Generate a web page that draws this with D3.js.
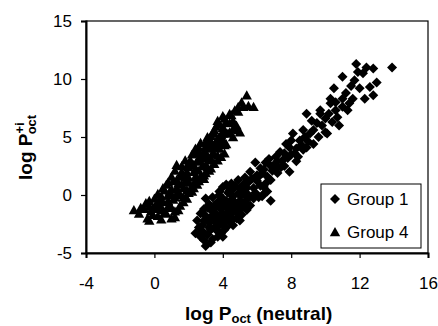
<!DOCTYPE html>
<html>
<head>
<meta charset="utf-8">
<script src="https://cdn.jsdelivr.net/npm/d3@7"></script>
<style>
  body { margin: 0; background: #fff; }
  text { font-family: Arial, "Liberation Sans", sans-serif; }
</style>
</head>
<body>
<svg id="chart" width="438" height="326"></svg>
<script>
// Group 1 (diamonds): [log P_oct neutral, log P+i_oct]
const group1 = [
  [3.0,-4.4],[2.4,-3.3],[2.7,-3.6],[3.1,-3.4],[3.4,-3.8],[3.6,-3.0],[3.9,-3.3],[4.0,-3.6],
  [2.8,-2.6],[3.2,-2.4],[3.5,-2.1],[3.8,-2.6],[4.2,-2.8],[4.4,-2.3],[2.7,-1.6],[3.0,-1.8],
  [3.3,-1.3],[3.6,-1.6],[3.9,-1.2],[4.1,-1.9],[4.5,-1.6],[4.8,-2.0],[5.1,-1.7],[5.4,-1.3],
  [3.2,-0.8],[3.4,-0.2],[3.7,-0.6],[4.0,-0.3],[4.2,-0.9],[4.5,-0.4],[4.8,-0.9],[5.0,-0.5],
  [5.3,-0.8],[5.6,-0.9],[3.8,0.3],[4.0,0.7],[4.3,0.2],[4.6,0.5],[4.9,0.1],[5.2,0.3],
  [5.5,0.0],[5.8,-0.3],[6.1,-0.2],[6.4,0.1],[4.9,1.3],[5.2,0.9],[5.5,1.1],[5.8,0.6],
  [6.0,1.2],[6.2,0.8],[6.8,1.3],[6.8,-0.5],[4.7,-1.2],[3.5,-2.8],[4.1,-2.2],[3.3,-3.0],
  [2.6,-2.8],[4.6,-2.6],[4.4,-0.6],[5.0,-1.3],[3.6,-1.0],[4.3,-1.5],
  [2.9,-3.9],[3.3,-4.1],[3.7,-3.6],[2.5,-2.2],[2.9,-2.2],[3.2,-2.0],[3.7,-2.3],[4.0,-2.5],
  [4.6,-2.1],[5.0,-2.2],[2.9,-1.2],[3.4,-1.8],[3.8,-1.9],[4.3,-1.2],[4.6,-1.0],[5.2,-1.0],
  [5.5,-1.0],[3.0,-0.3],[3.5,-0.9],[3.8,0.0],[4.2,-0.5],[4.6,-0.1],[5.1,0.0],[5.4,-0.4],
  [5.9,0.2],[6.3,-0.1],[4.2,0.9],[4.5,1.0],[4.7,0.8],[5.0,0.6],[5.4,0.6],[5.7,1.4],
  [6.1,1.6],[6.5,1.0],[6.6,0.3],[5.3,1.5],[5.6,2.0],[6.2,2.3],[6.9,2.1],[7.1,3.3],
  [6.5,2.8],[7.4,2.4],[7.8,3.2],[8.2,3.6],[8.6,4.3],[8.0,4.7],[8.8,5.0],[9.0,4.6],
  [8.7,5.6],[9.6,5.0],[9.2,6.4],[10.4,6.3],[10.2,7.0],[10.6,8.0],[11.2,8.8],[11.4,7.9],
  [12.0,9.2],[12.6,9.3],[11.9,10.6],
  [3.6,-2.4],[4.0,-1.6],[4.4,-1.9],[3.9,-0.8],[4.7,-0.6],[5.0,0.2],[5.3,0.0],[4.4,0.4],
  [3.5,-1.5],[2.8,-3.1],[3.2,-2.8],[4.1,-3.0],[6.3,1.9],[6.8,2.5],[7.2,2.9],[7.6,3.6],
  [7.1,2.3],[8.4,3.3],[8.9,4.1],[3.1,-1.1],[4.8,-1.5],
  [5.9,2.8],[6.0,1.7],[6.4,2.2],[6.7,3.1],[6.4,0.7],[7.2,1.9],[7.0,2.6],[7.5,3.0],
  [7.35,3.7],[7.9,2.0],[7.7,4.4],[7.9,4.1],[8.1,5.3],[8.0,3.5],[8.3,4.0],[8.5,4.7],
  [8.7,3.9],[8.3,2.9],[7.6,2.5],[6.6,1.6],
  [8.9,7.0],[9.1,5.3],[9.3,4.4],[9.5,6.2],[9.3,5.6],[9.7,7.3],[9.7,7.0],[10.0,5.4],
  [10.1,5.3],[10.3,7.9],[10.3,8.3],[10.5,9.2],[10.6,7.3],[10.7,6.7],[10.8,6.0],[11.0,8.3],
  [11.0,7.6],[11.0,10.2],[11.3,7.3],[11.6,8.3],[11.7,9.9],[11.8,11.3],[12.3,8.3],[12.8,10.9],
  [12.8,8.6],[13.0,9.7],[13.9,11.0],[11.5,9.4],[12.2,10.5],[10.0,6.6],[9.8,6.0],[12.4,11.0]
];

// Group 4 (triangles)
const group4 = [
  [-1.2,-1.3],[-0.8,-1.1],[-0.4,-2.0],[-0.5,-0.7],[-0.2,-1.4],[0.0,-0.3],[0.2,-1.8],[0.3,-0.9],
  [0.4,-0.1],[0.5,-1.3],[0.7,0.9],[0.7,-1.6],[0.8,-0.5],[0.9,0.3],[1.0,-1.1],[1.1,1.2],
  [1.2,-0.2],[1.3,2.6],[1.3,0.6],[1.4,-1.3],[1.5,1.6],[1.5,0.0],[1.6,2.0],[1.7,-0.6],
  [1.8,1.1],[1.8,3.0],[1.9,0.4],[2.0,2.4],[2.0,1.5],[1.9,-0.3],[2.2,3.5],[2.2,0.8],
  [2.3,2.0],[2.4,1.2],[2.4,4.0],[2.5,2.9],[2.2,0.3],[2.6,3.7],[2.7,1.6],[2.7,4.5],
  [2.8,2.5],[2.9,3.2],[2.5,0.9],[3.0,4.2],[3.0,1.9],[3.1,5.0],[3.2,3.0],[2.9,1.4],
  [3.3,4.6],[3.3,2.3],[3.4,3.6],[3.5,5.3],[3.2,2.1],[3.6,4.1],[3.7,6.4],[3.7,3.0],
  [3.8,5.0],[3.5,2.7],[3.9,4.5],[4.0,5.8],[4.1,3.6],[4.2,4.4],[4.3,5.3],[4.4,6.2],
  [3.9,3.3],[4.6,5.0],[4.7,7.3],[4.8,6.0],[4.9,5.6],[5.0,5.4],[5.2,7.6],[5.4,8.6],
  [5.8,7.6],[4.0,6.8],[4.5,6.9],[3.6,5.9],[1.0,0.0],[0.6,0.4],[0.1,-0.8],[-0.3,-1.0],
  [1.6,0.9],[1.2,-1.9],[0.9,-0.9],[1.4,0.3],
  [-0.3,-2.2],[0.4,-2.1],[1.0,-2.0],[-0.9,-1.6],[-0.1,-1.7],[0.6,-1.5],[1.2,-1.4],
  [-0.6,-1.2],[0.2,-1.2],[0.8,-1.0],[1.5,-0.9],[-0.3,-0.5],[0.5,-0.6],[1.1,-0.4],[1.7,-0.2],
  [0.2,0.1],[0.8,0.0],[1.4,0.1],[2.0,0.2],[0.5,0.6],[1.0,0.5],[1.7,0.6],[2.3,0.6],
  [0.8,1.1],[1.4,1.0],[2.0,1.1],[2.6,1.2],[1.0,1.6],[1.8,1.5],[2.4,1.6],[2.9,1.7],
  [1.2,2.1],[1.9,2.0],[2.6,2.1],[3.1,2.4],[1.6,2.5],[2.3,2.6],[3.0,2.6],
  [2.1,3.0],[2.6,3.2],[3.3,3.1],[3.7,3.4],[2.3,3.6],[2.9,3.7],[3.5,3.5],
  [2.6,4.1],[3.2,4.0],[3.8,4.0],[4.1,4.3],[3.0,4.6],[3.6,4.6],[4.0,4.8],
  [3.3,5.1],[3.9,5.2],[4.4,5.4],[4.6,5.7],[3.5,5.6],[4.1,5.6],
  [3.8,6.1],[4.2,6.3],[4.6,6.4],[4.1,6.6],[4.4,7.0],[4.9,7.2],
  [4.9,7.6],[5.5,7.7],[5.1,8.0],
  [1.3,1.3],[1.6,1.8],[2.1,2.8],[2.4,2.2],[2.8,3.5],[3.1,3.4],[3.4,4.3],[3.7,4.8],
  [4.0,5.3],[0.3,-0.4],[-0.1,-1.1],[1.9,2.5],[2.7,2.9],[3.2,4.9]
];

const xTicks = [-4, 0, 4, 8, 12, 16];
const yTicks = [-5, 0, 5, 10, 15];
const legendItems = ["Group 1", "Group 4"];

const svg = d3.select("#chart");
const margin = { top: 21, right: 10, bottom: 73, left: 86 };
const width = +svg.attr("width") - margin.left - margin.right;
const height = +svg.attr("height") - margin.top - margin.bottom;

const x = d3.scaleLinear().domain([-4, 16]).range([0, width]);
const y = d3.scaleLinear().domain([-5, 15]).range([height, 0]);

const g = svg.append("g").attr("transform", "translate(" + margin.left + "," + margin.top + ")");

// plot frame
g.append("rect")
  .attr("x", 0).attr("y", 0)
  .attr("width", width).attr("height", height)
  .attr("fill", "none").attr("stroke", "#000").attr("stroke-width", 1.2);

const diamond = "M0,-5L5,0L0,5L-5,0Z";
const triangle = "M0,-5L5.2,4.2L-5.2,4.2Z";

g.selectAll(".d1").data(group1).enter().append("path")
  .attr("class", "d1")
  .attr("d", diamond)
  .attr("transform", d => "translate(" + x(d[0]) + "," + y(d[1]) + ")")
  .attr("fill", "#000");

g.selectAll(".d4").data(group4).enter().append("path")
  .attr("class", "d4")
  .attr("d", triangle)
  .attr("transform", d => "translate(" + x(d[0]) + "," + y(d[1]) + ")")
  .attr("fill", "#000");

// axes
const xAxis = g.append("g")
  .attr("transform", "translate(0," + height + ")")
  .call(d3.axisBottom(x).tickValues(xTicks).tickFormat(d => String(d)).tickSize(5).tickPadding(19));
const yAxis = g.append("g")
  .call(d3.axisLeft(y).tickValues(yTicks).tickFormat(d => String(d)).tickSize(5).tickPadding(9));

[xAxis, yAxis].forEach(a => {
  a.select(".domain").attr("stroke", "#000").attr("stroke-width", 2);
  a.selectAll(".tick line").attr("stroke", "#000").attr("stroke-width", 1.2);
  a.selectAll(".tick text")
    .attr("fill", "#000")
    .style("font-family", "Arial, 'Liberation Sans', sans-serif")
    .style("font-size", "17px");
});

// axis titles
const xt = svg.append("text")
  .attr("x", 185)
  .attr("y", 320)
  .style("font-size", "19px").style("font-weight", "bold");
xt.append("tspan").text("log P");
xt.append("tspan").attr("dy", 3).style("font-size", "13px").text("oct");
xt.append("tspan").attr("dy", -3).text(" (neutral)");

const yt = svg.append("text")
  .attr("transform", "translate(32,180) rotate(-90)")
  .style("font-size", "19px").style("font-weight", "bold");
yt.append("tspan").text("log P");
yt.append("tspan").attr("dy", -8).style("font-size", "13px").text("+i");
yt.append("tspan").attr("dx", -12).attr("dy", 12).style("font-size", "13px").text("oct");

// legend
const lg = svg.append("g").attr("transform", "translate(321,184)");
lg.append("rect")
  .attr("width", 100).attr("height", 64)
  .attr("fill", "#fff").attr("stroke", "#000").attr("stroke-width", 1);
const li = lg.selectAll(".li").data(legendItems).enter().append("g")
  .attr("class", "li")
  .attr("transform", (d, i) => "translate(0," + (i * 33) + ")");
li.append("path")
  .attr("d", (d, i) => i === 0 ? diamond : triangle)
  .attr("transform", "translate(14,15)")
  .attr("fill", "#000");
li.append("text")
  .attr("x", 26).attr("y", 21)
  .style("font-size", "17px")
  .text(d => d);
</script>
</body>
</html>
